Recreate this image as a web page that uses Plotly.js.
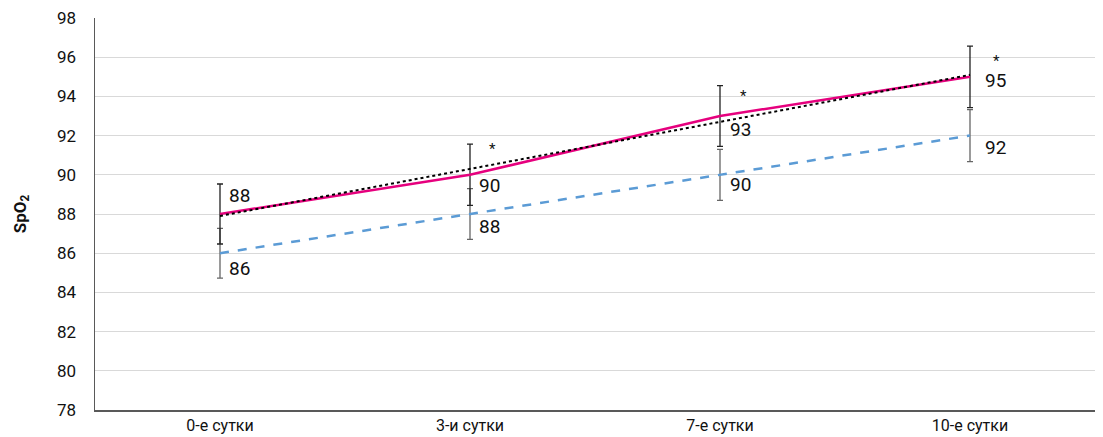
<!DOCTYPE html>
<html><head><meta charset="utf-8">
<script src="https://cdn.plot.ly/plotly-3.0.1.min.js"></script>
<style>html,body{margin:0;padding:0;background:#fff}#chart{width:1103px;height:437px}</style>
</head><body><div id="chart"></div>
<script>
const categories = ["0-е сутки", "3-и сутки", "7-е сутки", "10-е сутки"];
const seriesMain = [88, 90, 93, 95];
const seriesMainErr = [1.53, 1.56, 1.55, 1.57];
const seriesCtrl = [86, 88, 90, 92];
const seriesCtrlErr = [1.27, 1.29, 1.3, 1.33];
const asteriskY = [null, 91.3, 94.0, 95.8];
const yTicks = [78, 80, 82, 84, 86, 88, 90, 92, 94, 96, 98];

const FONT = "Roboto, 'DejaVu Sans', sans-serif";
const PINK = "#E6007E", BLUE = "#5B9BD5";
const xi = categories.map((c, i) => i);

// linear trend of the main series
const n = xi.length;
const mx = xi.reduce((a, b) => a + b, 0) / n;
const my = seriesMain.reduce((a, b) => a + b, 0) / n;
let sxy = 0, sxx = 0;
xi.forEach((x, i) => { sxy += (x - mx) * (seriesMain[i] - my); sxx += (x - mx) * (x - mx); });
const slope = sxy / sxx, icpt = my - slope * mx;
const trend = xi.map(x => icpt + slope * x);

const traces = [
  {x: xi, y: seriesCtrl, type: "scatter", mode: "lines",
   line: {color: BLUE, width: 2.5, dash: "dash"},
   error_y: {type: "data", array: seriesCtrlErr, visible: true, color: "#666", thickness: 1.3, width: 3},
   hoverinfo: "skip"},
  {x: xi, y: seriesMain, type: "scatter", mode: "lines",
   line: {color: PINK, width: 2.5},
   error_y: {type: "data", array: seriesMainErr, visible: true, color: "#222", thickness: 1.3, width: 3},
   hoverinfo: "skip"},
  {x: xi, y: trend, type: "scatter", mode: "lines",
   line: {color: "#000", width: 2, dash: "dot"}, hoverinfo: "skip"}
];

// label offsets (pixels) — styling only
const mainOff = [[19, 19], [19, -11], [20, -13], [25, -4]];
const ctrlOff = [[19, -15], [19, -12], [20, -10], [25, -12]];
const astOff = [0, 22, 23, 26];

const ann = [];
xi.forEach((x, i) => {
  ann.push({x: x, y: seriesMain[i], xref: "x", yref: "y", text: String(seriesMain[i]), showarrow: false,
    xshift: mainOff[i][0], yshift: mainOff[i][1], font: {family: FONT, size: 19, color: "#111"}});
  ann.push({x: x, y: seriesCtrl[i], xref: "x", yref: "y", text: String(seriesCtrl[i]), showarrow: false,
    xshift: ctrlOff[i][0], yshift: ctrlOff[i][1], font: {family: FONT, size: 19, color: "#111"}});
  if (asteriskY[i] !== null) {
    ann.push({x: x, y: asteriskY[i], xref: "x", yref: "y", text: "*", showarrow: false,
      xshift: astOff[i], font: {family: FONT, size: 15, color: "#111"}});
  }
});

const layout = {
  width: 1103, height: 437,
  margin: {l: 95, r: 8, t: 18, b: 27},
  paper_bgcolor: "#fff", plot_bgcolor: "#fff",
  showlegend: false,
  font: {family: FONT, size: 16, color: "#111"},
  xaxis: {
    type: "linear", range: [-0.5, 3.5], tickmode: "array", tickvals: xi, ticktext: categories,
    showgrid: false, zeroline: false, showline: true, linecolor: "#595959", linewidth: 1.5,
    ticks: "", ticklabelstandoff: 0, tickfont: {family: FONT, size: 16, color: "#111"}, fixedrange: true
  },
  yaxis: {
    range: [78, 98], tickmode: "array", tickvals: yTicks, ticktext: yTicks.map(String),
    showgrid: true, gridcolor: "#d9d9d9", gridwidth: 1, zeroline: false,
    showline: true, linecolor: "#595959", linewidth: 1.5, ticks: "", ticklabelstandoff: 14,
    tickfont: {family: FONT, size: 17, color: "#111"},
    title: {text: "<b>SpO<sub>2</sub></b>", font: {family: FONT, size: 17, color: "#111"}, standoff: 26},
    automargin: false, fixedrange: true
  },
  annotations: ann
};

Plotly.newPlot("chart", traces, layout, {staticPlot: true, displayModeBar: false});
</script></body></html>
